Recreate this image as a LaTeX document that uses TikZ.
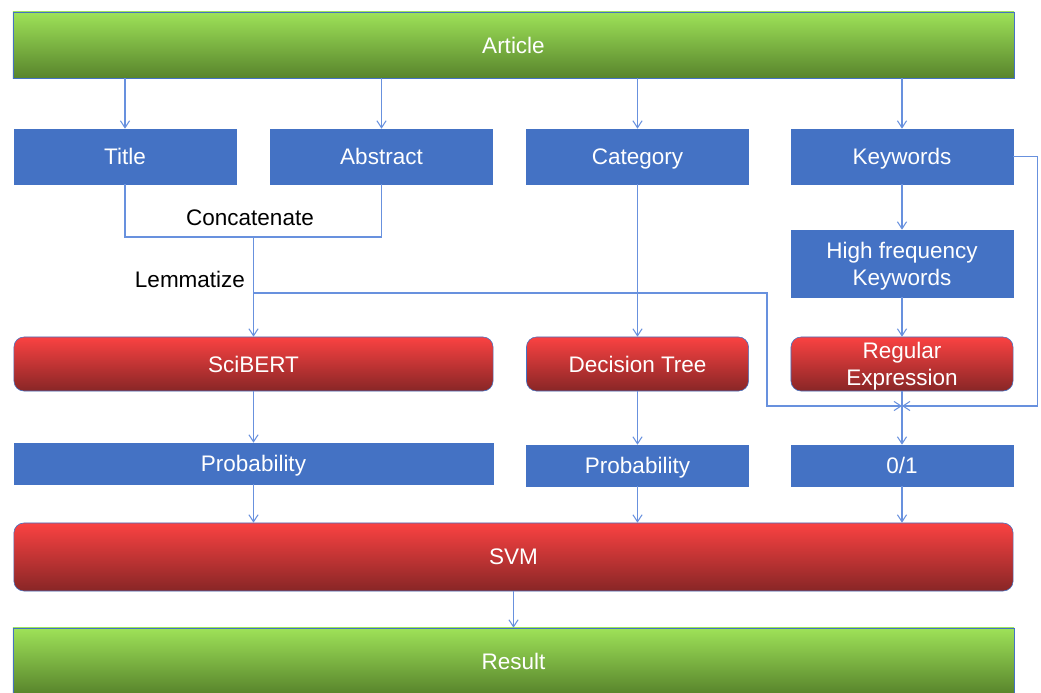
\documentclass[tikz,border=0pt]{standalone}
\usepackage{fontspec}
\setmainfont{Liberation Sans}
\usetikzlibrary{arrows.meta}

\definecolor{boxblue}{RGB}{68,114,196}
\definecolor{linkblue}{RGB}{104,145,222}
\definecolor{greentop}{RGB}{158,226,88}
\definecolor{greenmid}{RGB}{138,204,76}
\definecolor{greenbot}{RGB}{88,132,44}
\definecolor{redtop}{RGB}{250,66,66}
\definecolor{redmid}{RGB}{228,58,58}
\definecolor{redbot}{RGB}{136,38,38}

\begin{document}
\begin{tikzpicture}[x=0.025cm,y=-0.025cm]

\def\colw{5.55cm}   % <-- width of one column box
\def\rowh{1.375cm}

\tikzset{
    txt/.style={
        font=\fontsize{16}{19}\selectfont,
        inner sep=0pt,
        text depth=0pt,
        align=center
    },
    fieldbox/.style={
        txt,
        draw=boxblue,
        fill=boxblue,
        text=white,
        minimum width=\colw,
        minimum height=\rowh
    },
    modelbox/.style={
        txt,
        draw=boxblue,
        rounded corners=0.25cm,
        top color=redtop,
        middle color=redmid,
        bottom color=redbot,
        text=white,
        minimum width=\colw,
        minimum height=1.35cm
    },
    endbox/.style={
        txt,
        draw=boxblue,
        top color=greentop,
        middle color=greenmid,
        bottom color=greenbot,
        text=white,
        minimum width=25.025cm,
        minimum height=1.65cm
    },
    link/.style={
        draw=linkblue,
        line width=0.75pt
    },
    flow/.style={
        link,
        -{Straight Barb[length=5pt,width=6.5pt]}
    }
}

\useasboundingbox (0,0) rectangle (1041,692);

% Input
\node[endbox] (article) at (513.5,45) {Article};

% Fields
\node[fieldbox] (title)    at (125,156.5)   {Title};
\node[fieldbox] (abstract) at (381.5,156.5) {Abstract};
\node[fieldbox] (category) at (637.5,156.5) {Category};
\node[fieldbox] (keywords) at (902,156.5)   {Keywords};
\node[fieldbox, minimum height=1.675cm] (hfkw) at (902,263.5)
    {High frequency\\Keywords};

% Models
\node[modelbox, minimum width=11.975cm] (scibert) at (253.5,364) {SciBERT};
\node[modelbox] (dtree) at (637.5,364) {Decision Tree};
\node[modelbox] (regex) at (902,364)   {Regular\\Expression};

% Outputs
\node[fieldbox, minimum width=11.975cm, minimum height=1.025cm] (probA)
    at (253.5,463.5) {Probability};
\node[fieldbox, minimum height=1.025cm] (probB)  at (637.5,465.5) {Probability};
\node[fieldbox, minimum height=1.025cm] (binary) at (902,465.5)   {0/1};

\node[modelbox, minimum width=24.975cm, minimum height=1.7cm] (svm)
    at (513.5,557) {SVM};
\node[endbox] (result) at (513.5,661) {Result};

% Article -> fields
\foreach \f in {title,abstract,category,keywords}{
    \draw[flow] (\f.north |- article.south) -- (\f.north);
}

% Title + Abstract
\coordinate (join) at (253.5,237);
\coordinate (lem)  at (253.5,293);
\coordinate (bend) at (767,293);
\coordinate (merge) at (902,406);
\draw[link] (title.south) |- (join) -| (abstract.south);
\node[txt] (concat) at (250,218) {Concatenate};
\node[txt] (lemma)  at (190,279) {Lemmatize};
\draw[flow] (join) -- (scibert.north);
\draw[flow] (lem) -- (bend) |- (merge);

% Category / Keywords
\draw[flow] (category.south) -- (dtree.north);
\draw[flow] (keywords.south) -- (hfkw.north);
\draw[flow] (hfkw.south) -- (regex.north);
\draw[flow] (keywords.east) -- ++(24,0) |- (merge);

% Models -> outputs
\draw[flow] (scibert.south) -- (probA.north);
\draw[flow] (dtree.south) -- (probB.north);
\draw[flow] (regex.south) -- (binary.north);

% Outputs -> SVM -> Result
\foreach \o in {probA,probB,binary}{
    \draw[flow] (\o.south) -- (\o.south |- svm.north);
}
\draw[flow] (svm.south) -- (result.north);

\end{tikzpicture}
\end{document}
